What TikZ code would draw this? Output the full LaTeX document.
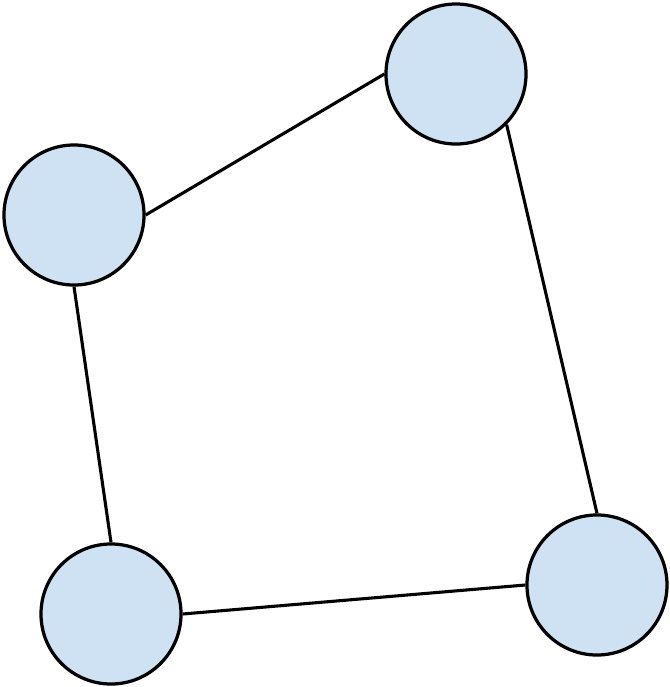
\documentclass[tikz,border=0pt]{standalone}
\usepackage{tikz}
\definecolor{nodeblue}{HTML}{CFE2F3}
\definecolor{nodeline}{HTML}{000000}

\tikzset{
    ringnode/.style={circle, draw=nodeline, line width=2.3pt, fill=nodeblue, minimum size=3.5cm, inner sep=0pt},
    ringedge/.style={draw=nodeline, line width=2.2pt}
}

\begin{document}
\begin{tikzpicture}[x=0.025cm, y=-0.025cm]
        \useasboundingbox (0, 0) rectangle (670, 687);
	\node[ringnode] (top) at (456, 74) {};
	\node[ringnode] (left) at (74, 215) {};
	\node[ringnode] (botleft) at (111, 614) {};
	\node[ringnode] (botright) at (597, 585) {};
        \draw[ringedge] (left.east) -- (top.west);
        \draw[ringedge] (top.south east) -- (botright.north);
        \draw[ringedge] (left.south) -- (botleft.north);
        \draw[ringedge] (botleft.east) -- (botright.west);

    \end{tikzpicture}
\end{document}
